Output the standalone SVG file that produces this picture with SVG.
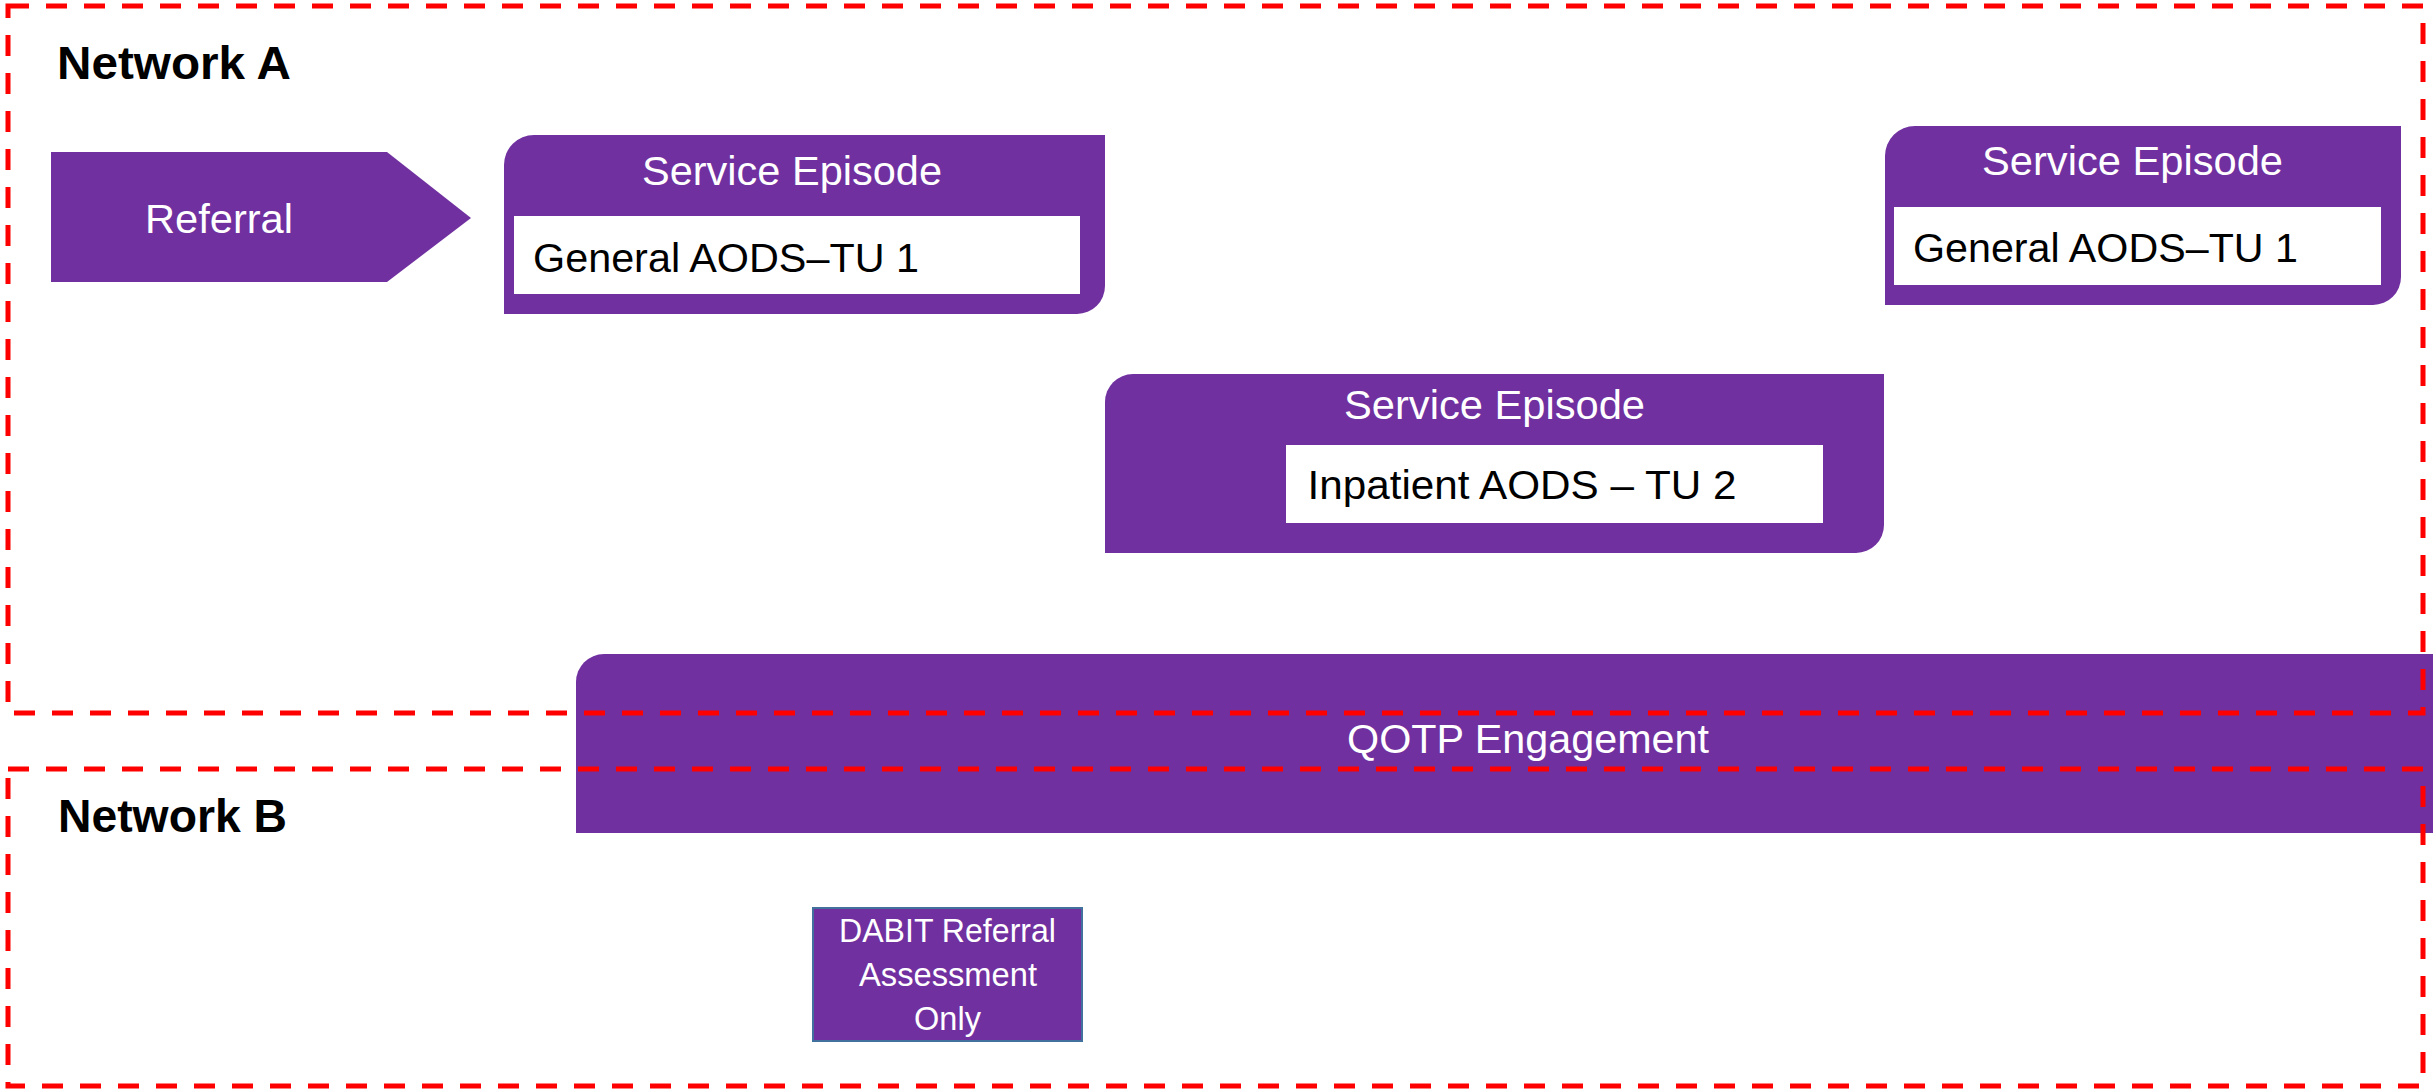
<svg xmlns="http://www.w3.org/2000/svg" width="2433" height="1089" viewBox="0 0 2433 1089">
<style>
.shape{fill:#7030A0;}
.inner{fill:#FFFFFF;}
.wt{font-family:"Liberation Sans",Arial,sans-serif;fill:#FFFFFF;font-size:41.5px;}
.bt{font-family:"Liberation Sans",Arial,sans-serif;fill:#000000;font-size:41.5px;}
.title{font-family:"Liberation Sans",Arial,sans-serif;fill:#000000;font-size:47px;font-weight:bold;}
.net{fill:none;stroke:#FF0000;stroke-width:5;stroke-dasharray:21 17;}
.small{font-family:"Liberation Sans",Arial,sans-serif;fill:#FFFFFF;font-size:32.5px;}
</style>
<rect width="2433" height="1089" fill="#FFFFFF"/>
<g id="referral">
<polygon class="shape" points="51,152 387,152 471,218 387,282 51,282"/>
<text class="wt" x="219" y="233" text-anchor="middle" textLength="148" lengthAdjust="spacingAndGlyphs">Referral</text>
</g>
<g id="service-episode-1">
<path class="shape" d="M534,135 H1105 V286 A28,28 0 0 1 1077,314 H504 V165 A30,30 0 0 1 534,135 Z"/>
<rect class="inner" x="514" y="216" width="566" height="78"/>
<text class="wt" x="792" y="185" text-anchor="middle" textLength="300" lengthAdjust="spacingAndGlyphs">Service Episode</text>
<text class="bt" x="533" y="272" textLength="386" lengthAdjust="spacingAndGlyphs">General AODS–TU 1</text>
</g>
<g id="service-episode-3">
<path class="shape" d="M1915,126 H2401 V277 A28,28 0 0 1 2373,305 H1885 V156 A30,30 0 0 1 1915,126 Z"/>
<rect class="inner" x="1894" y="207" width="487" height="78"/>
<text class="wt" x="2132.5" y="175" text-anchor="middle" textLength="301" lengthAdjust="spacingAndGlyphs">Service Episode</text>
<text class="bt" x="1913" y="262" textLength="385" lengthAdjust="spacingAndGlyphs">General AODS–TU 1</text>
</g>
<g id="service-episode-2">
<path class="shape" d="M1133,374 H1884 V525 A28,28 0 0 1 1856,553 H1105 V402 A28,28 0 0 1 1133,374 Z"/>
<rect class="inner" x="1286" y="445" width="537" height="78"/>
<text class="wt" x="1494.5" y="419" text-anchor="middle" textLength="301" lengthAdjust="spacingAndGlyphs">Service Episode</text>
<text class="bt" x="1307.5" y="499" textLength="429" lengthAdjust="spacingAndGlyphs">Inpatient AODS – TU 2</text>
</g>
<g id="qotp-engagement">
<path class="shape" d="M604,654 H2440 V833 H576 V682 A28,28 0 0 1 604,654 Z"/>
<text class="wt" x="1528" y="753" text-anchor="middle" textLength="362" lengthAdjust="spacingAndGlyphs">QOTP Engagement</text>
</g>
<g id="dabit">
<rect class="shape" x="813" y="908" width="269" height="133" stroke="#41719C" stroke-width="2"/>
<text class="small" x="947.5" y="942" text-anchor="middle" textLength="217" lengthAdjust="spacingAndGlyphs">DABIT Referral</text>
<text class="small" x="948" y="986" text-anchor="middle" textLength="178" lengthAdjust="spacingAndGlyphs">Assessment</text>
<text class="small" x="947.5" y="1030" text-anchor="middle">Only</text>
</g>
<g id="network-a">
<rect class="net" x="8" y="6" width="2415" height="707"/>
<text class="title" x="57" y="79" textLength="234" lengthAdjust="spacingAndGlyphs">Network A</text>
</g>
<g id="network-b">
<rect class="net" x="8" y="769" width="2415" height="317"/>
<text class="title" x="58" y="832" textLength="229" lengthAdjust="spacingAndGlyphs">Network B</text>
</g>
<g id="connectors"></g>
</svg>
